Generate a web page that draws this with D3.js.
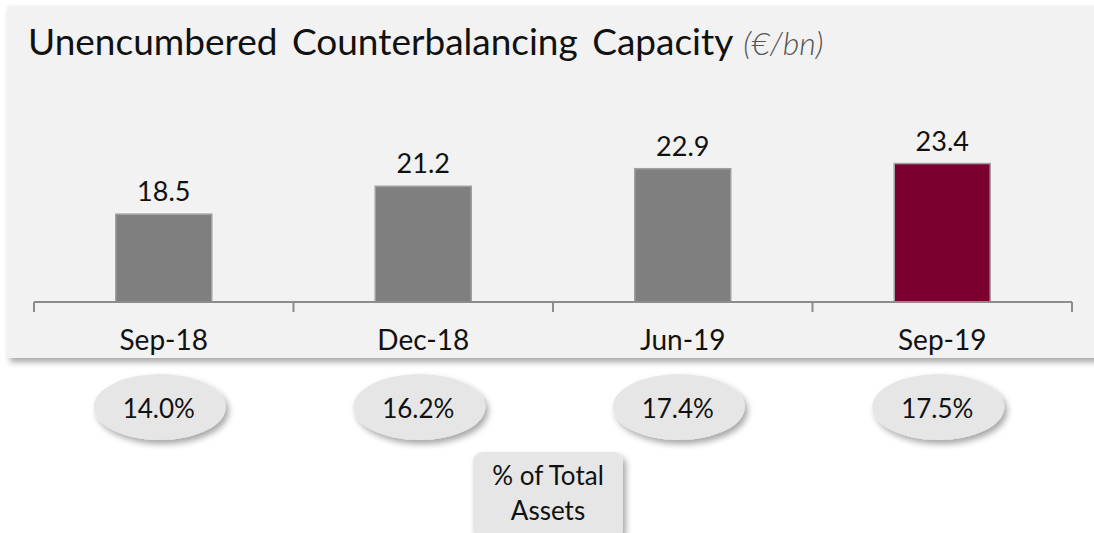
<!DOCTYPE html>
<html>
<head>
<meta charset="utf-8">
<script src="https://cdn.jsdelivr.net/npm/d3@7"></script>
<style>
  body { margin: 0; background: #fff; }
  svg { display: block; font-family: Lato, "Open Sans", sans-serif; }
</style>
</head>
<body>
<svg id="chart" width="1094" height="533"></svg>
<script>
const categories = ["Sep-18", "Dec-18", "Jun-19", "Sep-19"];
const capacity = [18.5, 21.2, 22.9, 23.4];
const pctAssets = ["14.0%", "16.2%", "17.4%", "17.5%"];
const barColors = ["#7f7f7f", "#7f7f7f", "#7f7f7f", "#7a0030"];

const svg = d3.select("#chart");
const defs = svg.append("defs");

// soft drop shadows like the slide
const sh = defs.append("filter").attr("id", "shadow")
    .attr("x", "-10%").attr("y", "-10%").attr("width", "130%").attr("height", "140%");
sh.append("feDropShadow").attr("dx", 3).attr("dy", 4).attr("stdDeviation", 3)
    .attr("flood-color", "#000").attr("flood-opacity", 0.35);

// panel
svg.append("rect")
    .attr("x", 7).attr("y", 6).attr("width", 1100).attr("height", 352)
    .attr("fill", "#f2f2f2").attr("filter", "url(#shadow)");

// title
const title = svg.append("text").attr("x", 28).attr("y", 55)
    .attr("font-size", 37).attr("word-spacing", 5).attr("fill", "#111");
title.append("tspan").text("Unencumbered Counterbalancing Capacity");
title.append("tspan").attr("dx", 10).attr("font-size", 32)
    .attr("font-style", "italic").attr("font-weight", 300).attr("fill", "#555")
    .attr("word-spacing", 0)
    .text("(€/bn)");

const x = d3.scaleBand()
    .domain(categories)
    .range([34, 1072])
    .paddingInner(0.63)
    .paddingOuter(0.315);

const y = d3.scaleLinear().domain([10, 25]).range([302, 147]);

const g = svg.append("g");

g.selectAll("rect.bar")
    .data(capacity)
    .join("rect")
    .attr("class", "bar")
    .attr("x", (d, i) => x(categories[i]))
    .attr("y", d => y(d))
    .attr("width", x.bandwidth())
    .attr("height", d => y(10) - y(d))
    .attr("fill", (d, i) => barColors[i])
    .attr("stroke", "#a0a0a0")
    .attr("stroke-width", 1.5);

g.selectAll("text.val")
    .data(capacity)
    .join("text")
    .attr("class", "val")
    .attr("x", (d, i) => x(categories[i]) + x.bandwidth() / 2)
    .attr("y", d => y(d) - 13)
    .attr("text-anchor", "middle")
    .attr("font-size", 27)
    .attr("fill", "#111")
    .text(d => d.toFixed(1));

// axis line with tick marks between categories
const tickPos = d3.range(categories.length + 1).map(i => 34 + i * x.step());
g.append("line")
    .attr("x1", 34).attr("x2", 1072).attr("y1", 302).attr("y2", 302)
    .attr("stroke", "#8c8c8c").attr("stroke-width", 2);
g.selectAll("line.tick")
    .data(tickPos)
    .join("line")
    .attr("class", "tick")
    .attr("x1", d => d).attr("x2", d => d)
    .attr("y1", 302).attr("y2", 312)
    .attr("stroke", "#8c8c8c").attr("stroke-width", 2);

g.selectAll("text.cat")
    .data(categories)
    .join("text")
    .attr("class", "cat")
    .attr("x", d => x(d) + x.bandwidth() / 2)
    .attr("y", 350)
    .attr("text-anchor", "middle")
    .attr("font-size", 28)
    .attr("fill", "#111")
    .text(d => d);

// % of total assets ellipses
const eg = svg.append("g");
eg.selectAll("ellipse")
    .data(pctAssets)
    .join("ellipse")
    .attr("cx", (d, i) => x(categories[i]) + x.bandwidth() / 2 - 4)
    .attr("cy", 407)
    .attr("rx", 66)
    .attr("ry", 33)
    .attr("fill", "#e6e6e6")
    .attr("filter", "url(#shadow)");
eg.selectAll("text")
    .data(pctAssets)
    .join("text")
    .attr("x", (d, i) => x(categories[i]) + x.bandwidth() / 2 - 5)
    .attr("y", 418)
    .attr("text-anchor", "middle")
    .attr("font-size", 26)
    .attr("fill", "#111")
    .text(d => d);

// label box
svg.append("rect")
    .attr("x", 473).attr("y", 452).attr("width", 150).attr("height", 86)
    .attr("rx", 9).attr("fill", "#e6e6e6").attr("filter", "url(#shadow)");
const lab = svg.append("text").attr("text-anchor", "middle")
    .attr("font-size", 26).attr("fill", "#111");
lab.append("tspan").attr("x", 548).attr("y", 485).text("% of Total");
lab.append("tspan").attr("x", 548).attr("y", 520).text("Assets");
</script>
</body>
</html>
